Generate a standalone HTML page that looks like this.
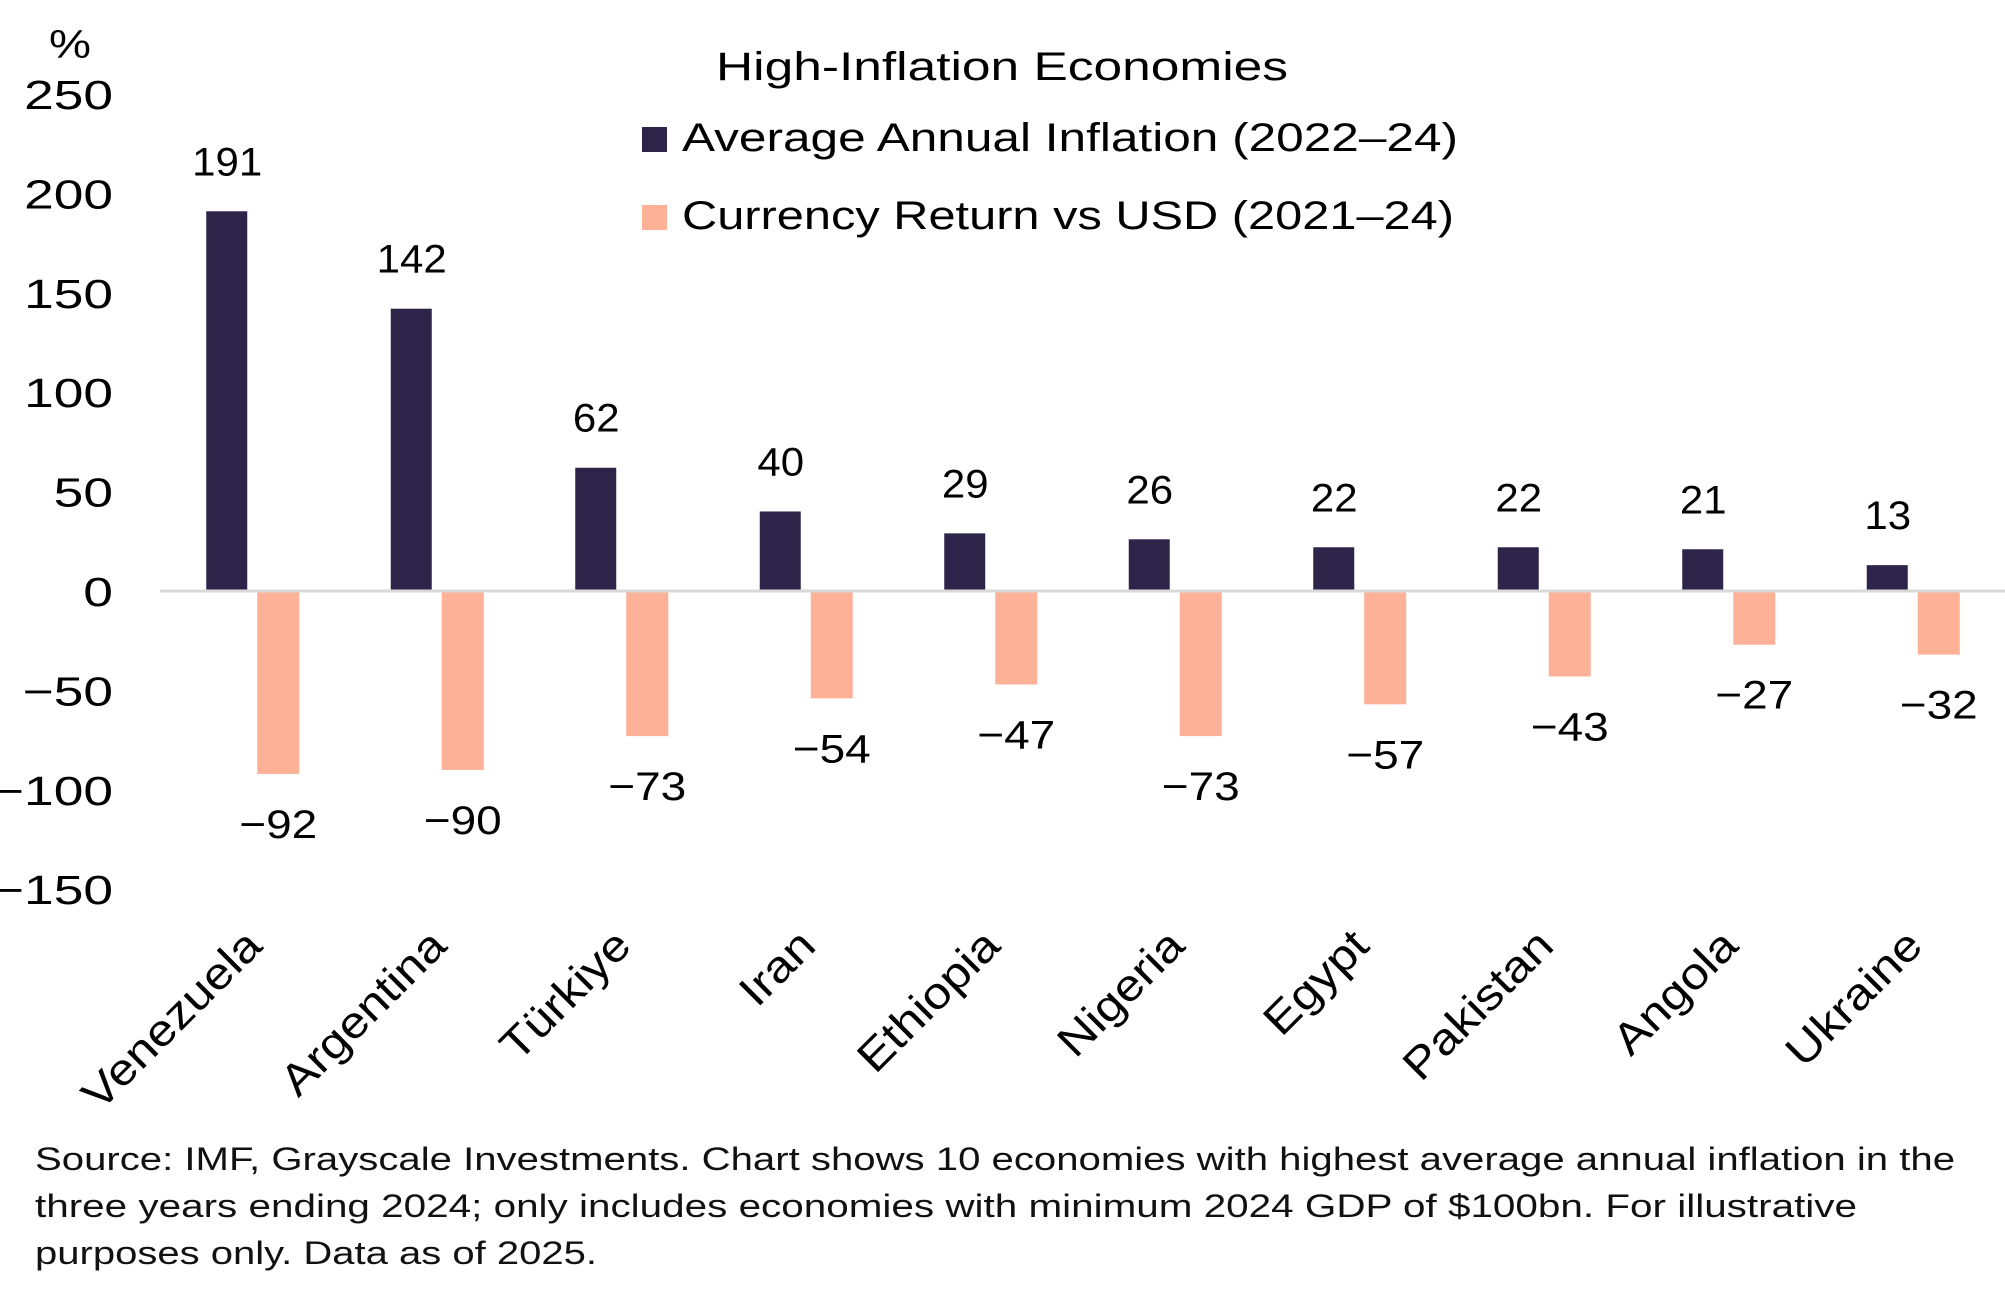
<!DOCTYPE html>
<html><head><meta charset="utf-8"><style>
html,body{margin:0;padding:0;background:#fff;}
svg{display:block;font-family:"Liberation Sans",sans-serif;}
</style></head><body>
<svg id="chart" width="2005" height="1295" viewBox="0 0 2005 1295">
<g id="yaxis"></g>
<g id="bars"></g>
<g id="cats"></g>
<text x="70" y="58" font-size="40" text-anchor="middle" textLength="42" lengthAdjust="spacingAndGlyphs">%</text>
<text x="716" y="80" font-size="40" textLength="572" lengthAdjust="spacingAndGlyphs">High-Inflation Economies</text>
<rect x="642" y="127" width="25" height="25" fill="#2e2449"/>
<text x="682" y="151" font-size="40" textLength="776" lengthAdjust="spacingAndGlyphs">Average Annual Inflation (2022–24)</text>
<rect x="642" y="205" width="25" height="25" fill="#fdb196"/>
<text x="682" y="229" font-size="40" textLength="772" lengthAdjust="spacingAndGlyphs">Currency Return vs USD (2021–24)</text>
<g font-size="32" fill="#111">
<text x="35" y="1170" textLength="1920" lengthAdjust="spacingAndGlyphs">Source: IMF, Grayscale Investments. Chart shows 10 economies with highest average annual inflation in the</text>
<text x="35" y="1217" textLength="1822" lengthAdjust="spacingAndGlyphs">three years ending 2024; only includes economies with minimum 2024 GDP of $100bn. For illustrative</text>
<text x="35" y="1264" textLength="562" lengthAdjust="spacingAndGlyphs">purposes only. Data as of 2025.</text>
</g>
</svg>
<script>
const categories=["Venezuela","Argentina","Türkiye","Iran","Ethiopia","Nigeria","Egypt","Pakistan","Angola","Ukraine"];
const inflation=[191,142,62,40,29,26,22,22,21,13];
const currency=[-92,-90,-73,-54,-47,-73,-57,-43,-27,-32];
const yTicks=[250,200,150,100,50,0,-50,-100,-150];
const NS="http://www.w3.org/2000/svg";
const x0=160,x1=2005,y0val=591,pxPer=99.4/50;
const band=(x1-x0)/categories.length;
function y(v){return y0val-v*pxPer;}
function mk(tag,attrs,parent,txt){const e=document.createElementNS(NS,tag);for(const k in attrs)e.setAttribute(k,attrs[k]);if(txt!==undefined)e.textContent=txt;parent.appendChild(e);return e;}
function widen(e,f){const l=e.getComputedTextLength();e.setAttribute('textLength',(l*f).toFixed(1));e.setAttribute('lengthAdjust','spacingAndGlyphs');}
const ya=document.getElementById('yaxis'),bars=document.getElementById('bars'),cats=document.getElementById('cats');
yTicks.forEach(t=>{const e=mk('text',{x:113,y:y(t)+15,'font-size':41,'text-anchor':'end'},ya,String(t).replace('-','−'));


widen(e,1.3);});
categories.forEach((c,i)=>{
 const cx=x0+band*i+band/2;
 const a=mk('rect',{x:cx-46,y:Math.min(y(inflation[i]),y(0)),width:41,height:Math.abs(y(inflation[i])-y(0)),fill:'#2e2449'},bars);
 
 
 const b=mk('rect',{x:cx+5,y:y(0),width:42,height:Math.abs(y(currency[i])-y(0)),fill:'#fdb196'},bars);
 
 
 const la=mk('text',{x:cx-25,y:y(inflation[i])-36,'font-size':40,'text-anchor':'middle'},bars,String(inflation[i]));
 
 
 widen(la,1.05);
 const lb=mk('text',{x:cx+26,y:y(currency[i])+64,'font-size':40,'text-anchor':'middle'},bars,String(currency[i]).replace('-','−'));
 
 
 widen(lb,1.15);
 const t=mk('text',{x:0,y:0,'font-size':44,'text-anchor':'end',transform:'translate('+(cx+12)+',948) rotate(-45)'},cats,c);
 
 
 widen(t,1.13);
});
const z=mk('line',{x1:x0,x2:x1,y1:y(0),y2:y(0),stroke:'#d9d9d9','stroke-width':3},bars);


</script>
</body></html>
